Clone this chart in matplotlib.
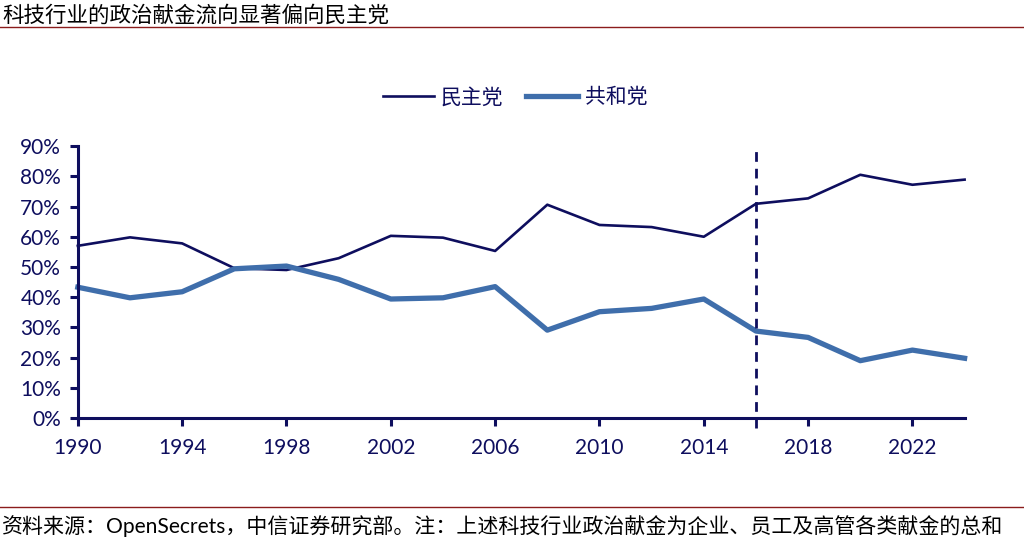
import matplotlib
matplotlib.use('Agg')
import matplotlib.pyplot as plt
from matplotlib.lines import Line2D
from matplotlib.ticker import PercentFormatter

years = list(range(1990, 2025, 2))
dem = [57.0, 59.8, 57.8, 49.6, 49.0, 52.9, 60.3, 59.7, 55.3, 70.6,
       63.9, 63.2, 60.0, 70.9, 72.7, 80.5, 77.2, 78.9]
rep = [43.3, 39.8, 41.8, 49.4, 50.3, 45.9, 39.4, 39.8, 43.5, 29.1,
       35.2, 36.3, 39.4, 28.8, 26.7, 19.0, 22.5, 19.8]
xtick_years = [1990, 1994, 1998, 2002, 2006, 2010, 2014, 2018, 2022]
yticks = [0, 10, 20, 30, 40, 50, 60, 70, 80, 90]
split_year = 2016

title = '科技行业的政治献金流向显著偏向民主党'
source = '资料来源：OpenSecrets，中信证券研究部。注：上述科技行业政治献金为企业、员工及高管各类献金的总和'

navy = '#0e0e5e'
steel = '#3f6eab'
darkred = '#8b1c1c'
fam = ['Lato', 'Noto Sans CJK SC', 'DejaVu Sans']
cjk = ['Noto Sans CJK SC', 'DejaVu Sans']

plt.rcParams['font.family'] = fam

fig = plt.figure(figsize=(10.24, 5.43), dpi=100)
ax = fig.add_axes([0.076, 0.230, 0.866, 0.501])

ax.plot(years, dem, color=navy, lw=1.9, label='民主党', clip_on=False)
ax.plot(years, rep, color=steel, lw=3.8, label='共和党', clip_on=False)
ax.axvline(split_year, ymin=-0.035, ymax=0.985, color=navy, lw=2.0,
           ls=(0, (3.5, 2.5)), clip_on=False)

ax.set_xlim(1990, 2024)
ax.set_ylim(0, 90)
ax.set_xticks(xtick_years)
ax.set_yticks(yticks)
ax.yaxis.set_major_formatter(PercentFormatter(decimals=0))

for side in ['top', 'right']:
    ax.spines[side].set_visible(False)
for side in ['left', 'bottom']:
    ax.spines[side].set_color(navy)
    ax.spines[side].set_linewidth(2.2)
ax.tick_params(axis='both', colors=navy, labelcolor=navy, width=2.2,
               length=6, labelsize=15, direction='out')
ax.tick_params(axis='x', pad=8)
ax.tick_params(axis='y', pad=6)

leg = ax.legend(loc='lower center', bbox_to_anchor=(0.493, 1.07), ncol=2,
                frameon=False, handlelength=2.45, handletextpad=0.35,
                columnspacing=1.1, prop={'family': cjk, 'size': 15})
for t in leg.get_texts():
    t.set_color(navy)

fig.text(0.002, 0.972, title, family=cjk, fontsize=15.5, color='black',
         ha='left', va='center')
fig.add_artist(Line2D([0, 1], [0.951, 0.951], color=darkred, lw=1.0))
fig.add_artist(Line2D([0, 1], [0.066, 0.066], color=darkred, lw=1.0))
fig.text(0.002, 0.032, source, family=fam, fontsize=15.1, color='black',
         ha='left', va='center')

fig.savefig('out.png', dpi=100)
